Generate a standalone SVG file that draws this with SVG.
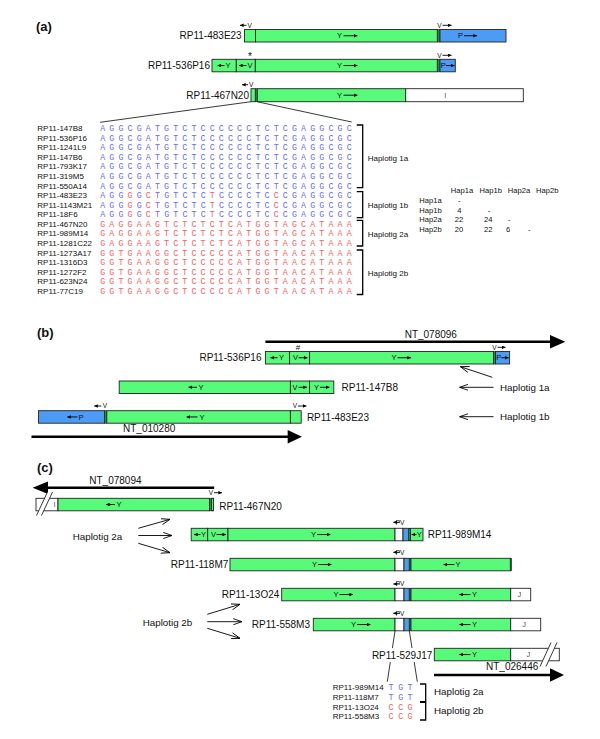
<svg xmlns="http://www.w3.org/2000/svg" width="600" height="739" viewBox="0 0 600 739">
<defs>
<style>
text{font-family:'Liberation Sans',Arial,sans-serif;fill:#111}
.pl{font-size:13px;font-weight:bold}
.lbl{font-size:10px}
.hl{font-size:9.8px}
.in{font-size:7.5px;text-anchor:middle}
.tp{font-size:6.5px;text-anchor:middle}
.nm{font-size:8px}
.tb{font-size:7.6px;text-anchor:middle}
.tbl{font-size:7.6px}
.gr{fill:#555}
.sq{font-family:'Liberation Mono','DejaVu Sans Mono',monospace;font-size:8.3px;letter-spacing:4.15px}
.sb{font-family:'Liberation Mono','DejaVu Sans Mono',monospace;font-size:8.3px;text-anchor:middle}
.bl{fill:#6a6aff}
.rd{fill:#ff5c5c}
.g{fill:#58fa7a;stroke:#222;stroke-width:0.9}
.b{fill:#4c9cf6;stroke:#222;stroke-width:0.9}
.w{fill:#fff;stroke:#222;stroke-width:0.9}
.d{fill:#2c8a40;stroke:#222;stroke-width:0.6}
.ar{stroke:#000;stroke-width:0.9;fill:none;marker-end:url(#h)}
.oa{stroke:#000;stroke-width:0.9;fill:none;marker-end:url(#o)}
.br{stroke:#000;stroke-width:1.3;fill:none}
.ln{stroke:#222;stroke-width:0.9;fill:none}
.nt{stroke:#000;stroke-width:2.5;fill:none}
</style>
<marker id="h" viewBox="0 0 6 6" refX="6" refY="3" markerWidth="3.6" markerHeight="3.6" markerUnits="userSpaceOnUse" orient="auto"><path d="M0,0L6,3L0,6z" fill="#000"/></marker>
<marker id="o" viewBox="0 0 10 8" refX="10" refY="4" markerWidth="9" markerHeight="7" markerUnits="userSpaceOnUse" orient="auto"><path d="M0,0.5L10,4L0,7.5" fill="none" stroke="#000" stroke-width="1"/></marker>
</defs>
<rect width="600" height="739" fill="#fff"/>

<g id="panel-labels">
<text class="pl" x="36" y="31">(a)</text>
<text class="pl" x="37" y="337">(b)</text>
<text class="pl" x="37" y="472">(c)</text>
</g>

<!-- ===== (a) ===== -->
<g id="a-RP11-483E23">
<rect class="g" x="244.5" y="29.5" width="11" height="12.5"/>
<rect class="g" x="255.5" y="29.5" width="181.8" height="12.5"/>
<rect class="d" x="437.3" y="29.5" width="2.7" height="12.5"/>
<rect class="b" x="440" y="29.5" width="66" height="12.5"/>
<text class="in" x="339.5" y="38.4">Y</text><path class="ar" d="M343.5,35.75H357.5"/>
<text class="in" x="460.5" y="38.4">P</text><path class="ar" d="M464,35.75H477"/>
<path class="ar" d="M246.5,25.3H240"/><text class="tp" x="249.7" y="27.6">V</text>
<text class="tp" x="439.5" y="27.6">V</text><path class="ar" d="M442.5,25.3H451.5"/>
<text class="lbl" x="241.7" y="39" text-anchor="end">RP11-483E23</text>
</g>

<g id="a-RP11-536P16">
<rect class="g" x="212" y="59.3" width="24.3" height="12.5"/>
<rect class="g" x="236.3" y="59.3" width="19" height="12.5"/>
<rect class="g" x="255.3" y="59.3" width="182" height="12.5"/>
<rect class="d" x="437.3" y="59.3" width="2.7" height="12.5"/>
<rect class="b" x="440" y="59.3" width="15.3" height="12.5"/>
<path class="ar" d="M224.5,65.55H217.5"/><text class="in" x="228" y="68.2">Y</text>
<path class="ar" d="M246.5,65.55H239"/><text class="in" x="250" y="68.2">V</text>
<text class="in" x="339.5" y="68.2">Y</text><path class="ar" d="M343.5,65.55H357.5"/>
<text class="in" x="443.3" y="68.2">P</text><path class="ar" d="M446,65.55H454.5"/>
<text x="250" y="59.8" font-size="10" text-anchor="middle">*</text>
<text class="tp" x="439.5" y="57.6">V</text><path class="ar" d="M442.5,55.3H451.5"/>
<text class="lbl" x="210" y="69" text-anchor="end">RP11-536P16</text>
</g>

<g id="a-RP11-467N20">
<rect class="g" x="251" y="88.7" width="4.3" height="13"/>
<rect class="d" x="255.3" y="88.7" width="2" height="13"/>
<rect class="g" x="257.3" y="88.7" width="148.4" height="13"/>
<rect class="w" x="405.7" y="88.7" width="117.6" height="13"/>
<text class="in" x="339.5" y="97.9">Y</text><path class="ar" d="M343.5,95.2H357.5"/>
<text class="in gr" x="445.3" y="97.9">I</text>
<path class="ar" d="M248,84.7H242"/><text class="tp" x="251.2" y="87">V</text>
<text class="lbl" x="249" y="98.8" text-anchor="end">RP11-467N20</text>
</g>

<g id="a-alignment">
<g class="nm-col">
<text class="nm" x="37.3" y="131.2">RP11-147B8</text>
<text class="nm" x="37.3" y="140.7">RP11-536P16</text>
<text class="nm" x="37.3" y="150.3">RP11-1241L9</text>
<text class="nm" x="37.3" y="159.9">RP11-147B6</text>
<text class="nm" x="37.3" y="169.4">RP11-793K17</text>
<text class="nm" x="37.3" y="179">RP11-319M5</text>
<text class="nm" x="37.3" y="188.6">RP11-550A14</text>
<text class="nm" x="37.3" y="198.2">RP11-483E23</text>
<text class="nm" x="37.3" y="207.7">RP11-1143M21</text>
<text class="nm" x="37.3" y="217.3">RP11-18F6</text>
<text class="nm" x="37.3" y="226.9">RP11-467N20</text>
<text class="nm" x="37.3" y="236.4">RP11-989M14</text>
<text class="nm" x="37.3" y="246">RP11-1281C22</text>
<text class="nm" x="37.3" y="255.6">RP11-1273A17</text>
<text class="nm" x="37.3" y="265.2">RP11-1316D3</text>
<text class="nm" x="37.3" y="274.7">RP11-1272F2</text>
<text class="nm" x="37.3" y="284.3">RP11-623N24</text>
<text class="nm" x="37.3" y="293.9">RP11-77C19</text>
</g>
<text class="sq bl" x="100.2" y="131.1">AGGCGATGTCTCCCCCCTCTCGAGGCGC</text>
<text class="sq bl" x="100.2" y="140.6">AGGCGATGTCTCCCCCCTCTCGAGGCGC</text>
<text class="sq bl" x="100.2" y="150.2">AGGCGATGTCTCCCCCCTCTCGAGGCGC</text>
<text class="sq bl" x="100.2" y="159.8">AGGCGATGTCTCCCCCCTCTCGAGGCGC</text>
<text class="sq bl" x="100.2" y="169.3">AGGCGATGTCTCCCCCCTCTCGAGGCGC</text>
<text class="sq bl" x="100.2" y="178.9">AGGCGATGTCTCCCCCCTCTCGAGGCGC</text>
<text class="sq bl" x="100.2" y="188.5">AGGCGATGTCTCCCCCCTCTCGAGGCGC</text>
<text class="sq bl" x="100.2" y="198.1">AGG<tspan class="rd">G</tspan>G<tspan class="rd">C</tspan>TGTCTC<tspan class="rd">T</tspan>CCCCTC<tspan class="rd">C</tspan>CGAGGCGC</text>
<text class="sq bl" x="100.2" y="207.6">AGG<tspan class="rd">G</tspan>G<tspan class="rd">C</tspan>TGTCTC<tspan class="rd">T</tspan>CCCCTC<tspan class="rd">C</tspan>CGAGGCGC</text>
<text class="sq bl" x="100.2" y="217.2">AGG<tspan class="rd">G</tspan>G<tspan class="rd">C</tspan>TGTCTC<tspan class="rd">T</tspan>CCCCTC<tspan class="rd">C</tspan>CGAGGCGC</text>
<text class="sq rd" x="100.2" y="226.8">GAGGAAGTCTCTCTCATGGTAGCATAAA</text>
<text class="sq rd" x="100.2" y="236.3">GAGGAAGTCTCTCTCATGGTAGCATAAA</text>
<text class="sq rd" x="100.2" y="245.9">GAGGAAGTCTCTCTCATGGTAGCATAAA</text>
<text class="sq rd" x="100.2" y="255.5">GGTGAAGGCTCCCCCATGGTAACATAAA</text>
<text class="sq rd" x="100.2" y="265.1">GGTGAAGGCTCCCCCATGGTAACATAAA</text>
<text class="sq rd" x="100.2" y="274.6">GGTGAAGGCTCCCCCATGGTAACATAAA</text>
<text class="sq rd" x="100.2" y="284.2">GGTGAAGGCTCCCCCATGGTAACATAAA</text>
<text class="sq rd" x="100.2" y="293.8">GGTGAAGGCTCCCCCATGGTAACATAAA</text>
<path class="br" d="M356.7,125H362.7V187.7H356.7"/>
<path class="br" d="M356.7,191.7H362.7V217.7H356.7"/>
<path class="br" d="M356.7,220.3H362.7V246H356.7"/>
<path class="br" d="M356.7,250H362.7V294.5H356.7"/>
<text class="nm" x="367.7" y="161">Haplotig 1a</text>
<text class="nm" x="367.7" y="207.6">Haplotig 1b</text>
<text class="nm" x="367.7" y="236.9">Haplotig 2a</text>
<text class="nm" x="367.7" y="276">Haplotig 2b</text>
</g>

<g id="a-table">
<text class="tb" x="462" y="193.1">Hap1a</text>
<text class="tb" x="490.7" y="193.1">Hap1b</text>
<text class="tb" x="519" y="193.1">Hap2a</text>
<text class="tb" x="547.3" y="193.1">Hap2b</text>
<text class="tbl" x="419.3" y="202.8">Hap1a</text>
<text class="tbl" x="419.3" y="212.5">Hap1b</text>
<text class="tbl" x="419.3" y="222.1">Hap2a</text>
<text class="tbl" x="419.3" y="231.8">Hap2b</text>
<text class="tb" x="459.3" y="202.8">-</text>
<text class="tb" x="459.3" y="212.5">4</text>
<text class="tb" x="489" y="212.5">-</text>
<text class="tb" x="459" y="222.1">22</text>
<text class="tb" x="488.3" y="222.1">24</text>
<text class="tb" x="509.3" y="222.1">-</text>
<text class="tb" x="459" y="231.8">20</text>
<text class="tb" x="488.3" y="231.8">22</text>
<text class="tb" x="508" y="231.8">6</text>
<text class="tb" x="529.3" y="231.8">-</text>
</g>

<!-- ===== (b) ===== -->
<g id="nt-078096">
<path class="nt" d="M265.4,341.7H551"/>
<path d="M550,335L565.4,341.7L550,348.4z" fill="#000"/>
<text class="lbl" x="430.8" y="337.9" text-anchor="middle">NT_078096</text>
</g>

<g id="b-RP11-536P16">
<rect class="g" x="265.4" y="351.5" width="24.2" height="12.5"/>
<rect class="g" x="289.6" y="351.5" width="20" height="12.5"/>
<rect class="g" x="309.6" y="351.5" width="183.9" height="12.5"/>
<rect class="d" x="493.5" y="351.5" width="2" height="12.5"/>
<rect class="b" x="495.5" y="351.5" width="14.1" height="12.5"/>
<path class="ar" d="M277.5,357.75H270.4"/><text class="in" x="281.5" y="360.4">Y</text>
<text class="in" x="295.5" y="360.4">V</text><path class="ar" d="M298.5,357.75H307.5"/>
<text class="in" x="394" y="360.4">Y</text><path class="ar" d="M397.5,357.75H411"/>
<text class="in" x="498.7" y="360.4">P</text><path class="ar" d="M501.3,357.75H508.7"/>
<text x="298" y="350" font-size="8" text-anchor="middle">#</text>
<text class="tp" x="494.5" y="349.6">V</text><path class="ar" d="M497.5,347.3H505.5"/>
<text class="lbl" x="261.5" y="361" text-anchor="end">RP11-536P16</text>
</g>

<g id="b-RP11-147B8">
<rect class="g" x="119.2" y="381" width="171.2" height="12.5"/>
<rect class="g" x="290.4" y="381" width="19.2" height="12.5"/>
<rect class="g" x="309.6" y="381" width="24.2" height="12.5"/>
<path class="ar" d="M197,387.25H188.5"/><text class="in" x="201" y="389.9">Y</text>
<text class="in" x="295" y="389.9">V</text><path class="ar" d="M298.5,387.25H307"/>
<text class="in" x="316.5" y="389.9">Y</text><path class="ar" d="M320,387.25H329.5"/>
<text class="lbl" x="341.5" y="390.9">RP11-147B8</text>
</g>

<g id="b-RP11-483E23">
<rect class="b" x="38.5" y="410.7" width="66.1" height="12.5"/>
<rect class="d" x="104.6" y="410.7" width="2.2" height="12.5"/>
<rect class="g" x="106.8" y="410.7" width="183.6" height="12.5"/>
<rect class="g" x="290.4" y="410.7" width="10.8" height="12.5"/>
<path class="ar" d="M77.5,416.95H67.3"/><text class="in" x="81" y="419.6">P</text>
<path class="ar" d="M197.5,416.95H186.5"/><text class="in" x="202" y="419.6">Y</text>
<path class="ar" d="M101.3,406H94.2"/><text class="tp" x="105" y="408.3">V</text>
<text class="tp" x="295" y="408.3">V</text><path class="ar" d="M298,406H306.5"/>
<text class="lbl" x="306.9" y="420.9">RP11-483E23</text>
</g>

<g id="nt-010280">
<path class="nt" d="M31.5,436.7H289"/>
<path d="M287.7,430L301.9,436.7L287.7,443.4z" fill="#000"/>
<text class="lbl" x="123" y="432">NT_010280</text>
</g>

<g id="b-haplotig-1a"><text class="hl" x="500" y="390.8">Haplotig 1a</text></g>
<g id="b-haplotig-1b"><text class="hl" x="500" y="420.2">Haplotig 1b</text></g>

<!-- ===== (c) ===== -->
<g id="nt-078094">
<path class="nt" d="M47,487.7H214.2"/>
<path d="M48,481.5L32.7,487.7L48,493.9z" fill="#000"/>
<text class="lbl" x="115.4" y="483.6" text-anchor="middle">NT_078094</text>
</g>

<g id="c-RP11-467N20">
<rect class="w" x="36" y="498.3" width="22" height="12.5"/>
<rect class="g" x="58" y="498.3" width="151.6" height="12.5"/>
<rect class="d" x="209.6" y="498.3" width="2" height="12.5"/>
<rect class="g" x="211.6" y="498.3" width="1.9" height="12.5"/>
<polygon points="36.5,515.5 41.5,515.5 52.5,492 47.5,492" fill="#fff"/>
<path class="ln" d="M36.5,515.5L47.5,492M41.5,515.5L52.5,492"/>
<text class="in gr" x="54.5" y="507.2">I</text>
<path class="ar" d="M115,504.55H106"/><text class="in" x="119" y="507.2">Y</text>
<text class="tp" x="211" y="495">V</text><path class="ar" d="M214,492.7H222"/>
<text class="lbl" x="219.2" y="509.6">RP11-467N20</text>
</g>

<g id="c-haplotig-2a"><text class="hl" x="72.7" y="539.5">Haplotig 2a</text></g>

<g id="c-RP11-989M14">
<rect class="g" x="191.2" y="528.3" width="16.5" height="12.5"/>
<rect class="g" x="207.7" y="528.3" width="20.3" height="12.5"/>
<rect class="g" x="228" y="528.3" width="167" height="12.5"/>
<rect class="w" x="395" y="528.3" width="8" height="12.5"/>
<rect class="b" x="403" y="528.3" width="5.8" height="12.5"/>
<rect class="d" x="408.8" y="528.3" width="1.7" height="12.5"/>
<rect class="g" x="410.5" y="528.3" width="12.5" height="12.5"/>
<path class="ar" d="M200.5,534.55H194"/><text class="in" x="203.5" y="537.2">Y</text>
<text class="in" x="213.5" y="537.2">V</text><path class="ar" d="M216.5,534.55H226"/>
<text class="in" x="313.5" y="537.2">Y</text><path class="ar" d="M317,534.55H330.5"/>
<path class="ar" d="M416.5,534.55H411.5"/><text class="in" x="419.3" y="537.2">Y</text>
<path class="ar" d="M400,522.3H393.3"/><text class="tp" x="400" y="524.6" text-anchor="start">PV</text>
<text class="lbl" x="427.7" y="538.1">RP11-989M14</text>
</g>

<g id="c-RP11-118M7">
<rect class="g" x="230" y="558.3" width="165" height="12.5"/>
<rect class="w" x="395" y="558.3" width="9" height="12.5"/>
<rect class="b" x="404" y="558.3" width="5.3" height="12.5"/>
<rect class="d" x="409.3" y="558.3" width="1.7" height="12.5"/>
<rect class="g" x="411" y="558.3" width="99.3" height="12.5"/>
<rect class="d" x="510.3" y="558.3" width="1.4" height="12.5"/>
<text class="in" x="314.5" y="567.2">Y</text><path class="ar" d="M318,564.55H331.5"/>
<path class="ar" d="M454.5,564.55H443.5"/><text class="in" x="458" y="567.2">Y</text>
<path class="ar" d="M400,552.3H393.3"/><text class="tp" x="400" y="554.6" text-anchor="start">PV</text>
<text class="lbl" x="228.3" y="568.1" text-anchor="end">RP11-118M7</text>
</g>

<g id="c-RP11-13O24">
<rect class="g" x="281.7" y="588.3" width="113.3" height="12.5"/>
<rect class="w" x="395" y="588.3" width="9" height="12.5"/>
<rect class="b" x="404" y="588.3" width="5.3" height="12.5"/>
<rect class="d" x="409.3" y="588.3" width="1.7" height="12.5"/>
<rect class="g" x="411" y="588.3" width="99.7" height="12.5"/>
<rect class="w" x="510.7" y="588.3" width="20" height="12.5"/>
<text class="in" x="336" y="597.2">Y</text><path class="ar" d="M339.5,594.55H353"/>
<path class="ar" d="M470.5,594.55H459.3"/><text class="in" x="474.5" y="597.2">Y</text>
<text class="in gr" x="519.3" y="597.2">J</text>
<path class="ar" d="M400,584H393.3"/><text class="tp" x="400" y="586.3" text-anchor="start">PV</text>
<text class="lbl" x="279.3" y="598.1" text-anchor="end">RP11-13O24</text>
</g>

<g id="c-RP11-558M3">
<rect class="g" x="313.3" y="618.3" width="81.7" height="12.5"/>
<rect class="w" x="395" y="618.3" width="9" height="12.5"/>
<rect class="b" x="404" y="618.3" width="5.3" height="12.5"/>
<rect class="d" x="409.3" y="618.3" width="1.7" height="12.5"/>
<rect class="g" x="411" y="618.3" width="99.7" height="12.5"/>
<rect class="w" x="510.7" y="618.3" width="30" height="12.5"/>
<text class="in" x="353.5" y="627.2">Y</text><path class="ar" d="M357,624.55H370.5"/>
<path class="ar" d="M470.5,624.55H459.3"/><text class="in" x="474.5" y="627.2">Y</text>
<text class="in gr" x="524" y="627.2">J</text>
<path class="ar" d="M400,613.3H393.3"/><text class="tp" x="400" y="615.6" text-anchor="start">PV</text>
<text class="lbl" x="310" y="628.1" text-anchor="end">RP11-558M3</text>
</g>

<g id="c-haplotig-2b"><text class="hl" x="142.7" y="626.2">Haplotig 2b</text></g>

<g id="c-RP11-529J17">
<rect class="g" x="434.3" y="648.3" width="76.4" height="12.5"/>
<rect class="w" x="510.7" y="648.3" width="48.6" height="12.5"/>
<polygon points="540,666.5 546,666.5 557,642.5 551,642.5" fill="#fff"/>
<path class="ln" d="M540,666.5L551,642.5M546,666.5L557,642.5"/>
<path class="ar" d="M470.5,654.55H459.3"/><text class="in" x="474.5" y="657.2">Y</text>
<text class="in gr" x="528.3" y="657.2">J</text>
<text class="lbl" x="432.3" y="658.6" text-anchor="end">RP11-529J17</text>
</g>

<g id="nt-026446">
<path class="nt" d="M434,675H551"/>
<path d="M550,668.3L564,675L550,681.7z" fill="#000"/>
<text class="lbl" x="538.3" y="670.2" text-anchor="end">NT_026446</text>
</g>

<g id="c-alignment">
<text class="nm" x="332.7" y="690.3">RP11-989M14</text>
<text class="nm" x="332.7" y="700">RP11-118M7</text>
<text class="nm" x="332.7" y="709.7">RP11-13O24</text>
<text class="nm" x="332.7" y="719.4">RP11-558M3</text>
<text class="sb bl" x="391 400.7 410" y="690.2">TGT</text>
<text class="sb bl" x="391 400.7 410" y="699.9">TGT</text>
<text class="sb rd" x="391 400.7 410" y="709.6">CCG</text>
<text class="sb rd" x="391 400.7 410" y="719.3">CCG</text>
<path class="br" d="M420,684H425.7V701.7H420"/>
<path class="br" d="M420,702.3H425.7V720H420"/>
<text class="hl" x="434" y="695.2">Haplotig 2a</text>
<text class="hl" x="434" y="713.8">Haplotig 2b</text>
</g>

<g id="connectors">
<path class="ln" d="M251,101.7L100,122.3"/>
<path class="ln" d="M257,101.7L351.7,122"/>
<path class="oa" d="M492.3,377.3L460.4,366.7"/>
<path class="oa" d="M493.5,387.3H459.6"/>
<path class="oa" d="M493.5,416.7H459.6"/>
<path class="oa" d="M138.3,528.3L170,519.3"/>
<path class="oa" d="M138.3,535.5H172"/>
<path class="oa" d="M138.3,543.3L170,552.7"/>
<path class="oa" d="M207.3,614.3L240,604.3"/>
<path class="oa" d="M207.3,621.7H242"/>
<path class="oa" d="M207.3,628.3L240,638.3"/>
<path class="ln" d="M395,630.8L392.4,648M390.3,662L387.3,681.7"/>
<path class="ln" d="M409.3,630.8L412,648M414.2,662L417.3,681.7"/>
</g>
</svg>
